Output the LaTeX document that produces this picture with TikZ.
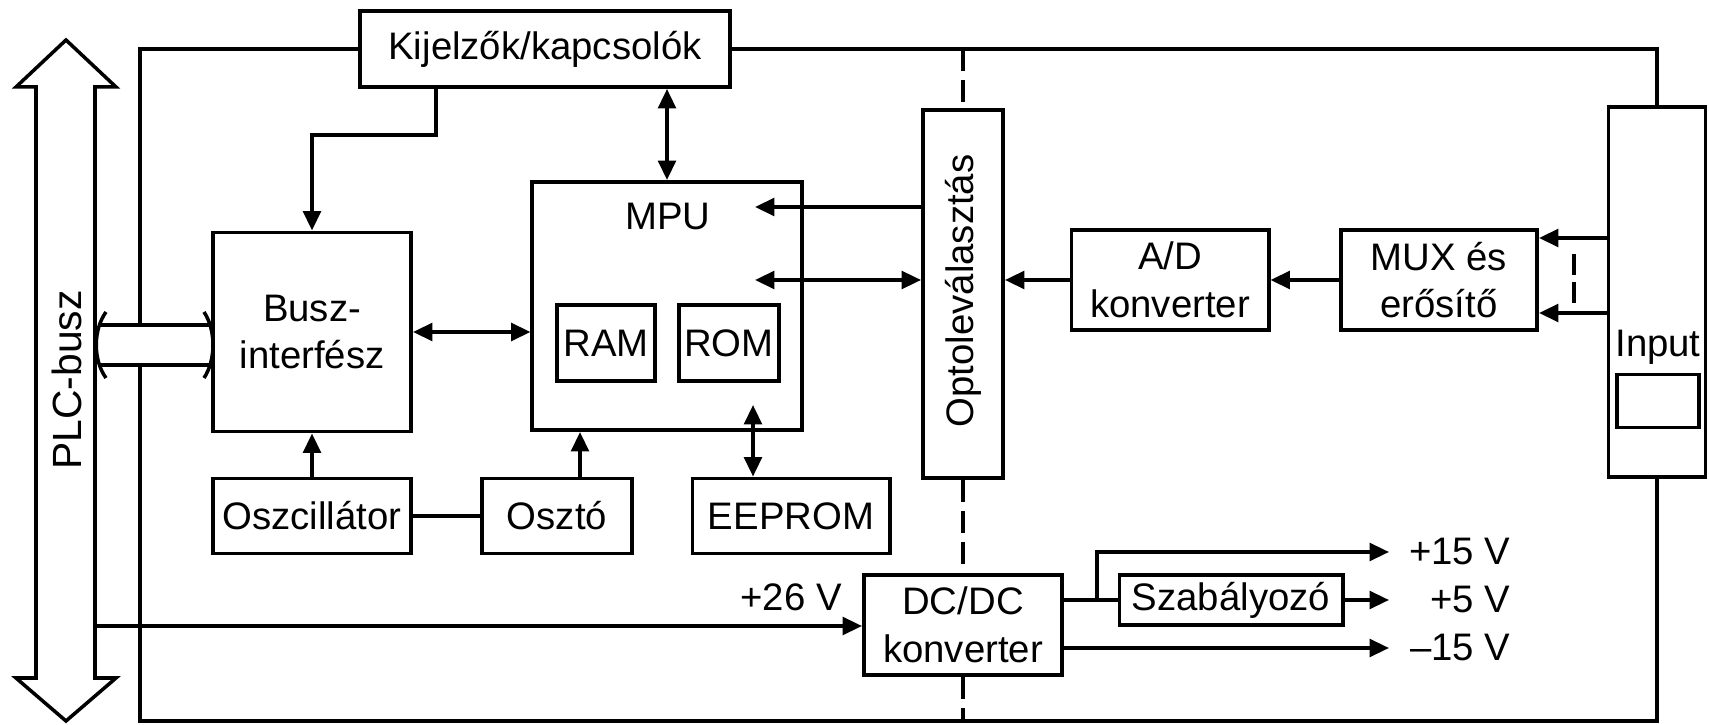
\documentclass[tikz,border=0pt]{standalone}
\usepackage{fontspec}
\setmainfont{Liberation Sans}
\usetikzlibrary{arrows.meta}
\begin{document}
\begin{tikzpicture}[x=0.01cm,y=-0.01cm,
  line width=1pt,
  every node/.style={font=\fontsize{10.9pt}{13.5pt}\selectfont, inner sep=0pt, align=center},
  box/.style={draw, line width=1.1pt, fill=white},
  arr/.style={-{Triangle[length=5.5pt,width=5pt]}},
  arrtwo/.style={{Triangle[length=5.5pt,width=5pt]}-{Triangle[length=5.5pt,width=5pt]}},
  dashline/.style={dash pattern=on 0.22cm off 0.09cm}]
\useasboundingbox (0,0) rectangle (1709,725);

% boxes
\node[box, minimum width=3.70cm, minimum height=0.76cm] (kij) at (545,49) {Kijelzők/kapcsolók};
\node[box, minimum width=1.98cm, minimum height=1.99cm] (busz) at (312,332) {Busz-\\interfész};
\node[box, minimum width=2.69cm, minimum height=2.48cm] (mpu) at (667,306) {};
\node (mputxt) at (668,217) {MPU};
\node[box, minimum width=0.98cm, minimum height=0.76cm] (ram) at (606,343) {RAM};
\node[box, minimum width=1.00cm, minimum height=0.76cm] (rom) at (729,343) {ROM};
\node[box, minimum width=1.97cm, minimum height=0.75cm] (eeprom) at (791,516) {EEPROM};
\node[box, minimum width=1.50cm, minimum height=0.75cm] (oszto) at (557,516) {Osztó};
\node[box, minimum width=1.98cm, minimum height=0.75cm] (oszc) at (312,516) {Oszcillátor};
\node[box, minimum width=0.80cm, minimum height=3.68cm] (opto) at (963,294) {};
\node[rotate=90] (optotxt) at (963,291) {Optoleválasztás};
\node[box, minimum width=1.97cm, minimum height=1.00cm] (ad) at (1170,280) {A/D\\konverter};
\node[box, minimum width=1.96cm, minimum height=1.00cm] (mux) at (1439,280) {MUX és\\erősítő};
\node[box, minimum width=0.97cm, minimum height=3.69cm] (input) at (1657,292) {};
\node (inputtxt) at (1658,347) {Input};
\node[box, minimum width=0.82cm, minimum height=0.53cm] (inrect) at (1658,401) {};
\node[box, minimum width=1.98cm, minimum height=1.00cm] (dcdc) at (963,625) {DC/DC\\konverter};
\node[box, minimum width=2.23cm, minimum height=0.50cm] (szab) at (1231,600) {Szabályozó};

% frame
\coordinate (fbl) at (140,721);
\draw (kij.west) -| (fbl) -| (input.south);
\draw (kij.east) -| (input.north);

% dashed isolation line
\draw[dashline] (opto.north |- kij.east) -- (opto.north);
\draw[dashline] (opto.south) -- (dcdc.north);
\draw[dashline] (dcdc.south) -- (dcdc.south |- fbl);

% connectors
\coordinate (k1) at (436,135);
\draw[arr] (kij.south -| k1) -- (k1) -| (busz.north);
\draw[arrtwo] (kij.south -| mpu.north) -- (mpu.north);
\draw[arrtwo] (busz.east) -- (busz.east -| mpu.west);
\draw[arr] (oszc.north) -- (busz.south);
\draw (oszc.east) -- (oszto.west);
\coordinate (xo) at (580,455);
\draw[arr] (oszto.north -| xo) -- (mpu.south -| xo);
\coordinate (xe) at (753,405);
\draw[arrtwo] (eeprom.north -| xe) -- (xe);
\coordinate (m1) at (755,207);
\draw[arr] (opto.west |- m1) -- (m1);
\coordinate (m2) at (755,280);
\draw[arrtwo] (m2) -- (opto.west |- m2);
\draw[arr] (ad.west) -- (opto.east |- ad.west);
\draw[arr] (mux.west) -- (ad.east);
\coordinate (i1) at (1609,238);
\coordinate (i2) at (1609,313);
\draw[arr] (input.west |- i1) -- (mux.east |- i1);
\draw[arr] (input.west |- i2) -- (mux.east |- i2);
\coordinate (d1) at (1574,254);
\coordinate (d2) at (1574,303);
\draw[dash pattern=on 0.21cm off 0.07cm] (d1) -- (d2);

% power
\coordinate (p26) at (95,626);
\draw[arr] (p26) -- (dcdc.west |- p26);
\node (l26) at (791,597) {+26 V};
\coordinate (b1) at (1097,600);
\coordinate (v15) at (1389,552);
\coordinate (v5) at (1389,600);
\coordinate (vm15) at (1389,648);
\draw (dcdc.east |- szab.west) -- (szab.west);
\draw[arr] (b1) |- (v15);
\draw[arr] (szab.east) -- (v5);
\draw[arr] (dcdc.east |- vm15) -- (vm15);
\node[anchor=east] (l15) at (1512,552) {+15 V};
\node[anchor=east] (l5) at (1512,600) {+5 V};
\node[anchor=east] (lm15) at (1512,648) {–15 V};

% PLC bus arrow
\draw[line join=miter] (36,87) -- (16,87) -- (66,40) -- (116,87) -- (95,87) -- (95,678) -- (116,678) -- (66,721) -- (16,678) -- (36,678) -- cycle;
\node[rotate=90, font=\fontsize{11.6pt}{14pt}\selectfont] (plc) at (67,380) {PLC-busz};

% hollow bus connection
\fill[white] (100,326) rectangle (210,364);
\draw (100,325) -- (210,325);
\draw (100,365) -- (210,365);
\draw (106,312) .. controls (93,330) and (93,360) .. (106,378);
\draw (204,312) .. controls (216,330) and (216,360) .. (204,378);
\end{tikzpicture}
\end{document}
